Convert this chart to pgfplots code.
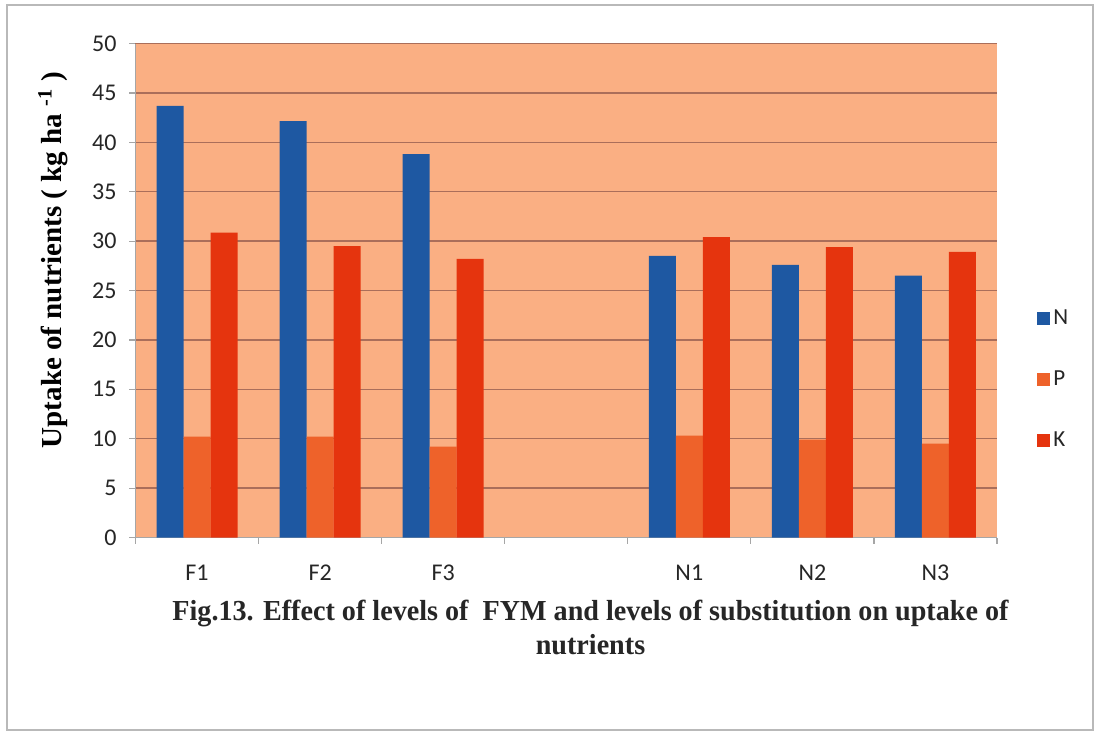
\documentclass[border=0pt]{standalone}
\usepackage{pgfplots}
\pgfplotsset{compat=1.18}
\usepackage{fontspec}
\setmainfont{Carlito}
\newfontfamily\capfont[FakeStretch=0.97]{Liberation Serif}
\newfontfamily\labfont{Liberation Serif}
\definecolor{bgc}{RGB}{250,175,131}
\definecolor{gridc}{RGB}{170,110,90}
\definecolor{cN}{RGB}{30,88,162}
\definecolor{cP}{RGB}{238,98,42}
\definecolor{cK}{RGB}{229,52,14}
\begin{document}
\begin{tikzpicture}[x=1pt,y=1pt]
\useasboundingbox (0,0) rectangle (549.5,367.5);
\fill[white] (0,0) rectangle (549.5,367.5);
\draw[gray!55,line width=0.8pt] (3.5,2.5) rectangle (546.5,365);
\begin{axis}[
  at={(67.75pt,98.75pt)}, anchor=south west,
  scale only axis, width=430.75pt, height=247pt,
  xmin=-0.5, xmax=6.5, ymin=0, ymax=50,
  ybar=0pt, bar width=13.5pt,
  axis background/.style={fill=bgc},
  axis x line*=bottom, axis y line*=left,
  axis line style={gray!70, line width=0.6pt},
  ytick={0,5,...,50},
  ymajorgrids, grid style={gridc, line width=0.7pt},
  y tick style={gray!70, line width=0.6pt},
  tick align=outside, major tick length=3pt,
  xtick={0,1,2,4,5,6},
  xticklabels={F1,F2,F3,N1,N2,N3},
  x tick style={draw=none},
  extra x ticks={-0.5,0.5,1.5,2.5,3.5,4.5,5.5,6.5},
  extra x tick labels={},
  extra x tick style={grid=none, x tick style={draw=gray!70, line width=0.6pt}, major tick length=3pt},
  /pgf/number format/assume math mode=true,
  tick label style={font=\fontsize{12}{14}\selectfont, text=black!85},
  xticklabel style={yshift=-7pt},
  yticklabel style={xshift=-3pt},
  ylabel={\labfont\bfseries Uptake of nutrients ( kg ha \textsuperscript{-1} )},
  ylabel style={font=\fontsize{14.5}{16}\selectfont, at={(ticklabel cs:0.562)}, yshift=5pt},
  legend style={draw=none, fill=none, at={(1,0.32)}, anchor=west, xshift=17pt,
    font=\fontsize{11.5}{13}\selectfont, row sep=18.5pt, text=black!85,
    nodes={inner sep=1.5pt}},
  legend cell align=left,
  legend image code/.code={\fill[#1,draw=none] (0pt,-3.25pt) rectangle (6.5pt,3.25pt);},
]
\addplot[fill=cN, draw=none] coordinates {(0,43.7) (1,42.15) (2,38.8) (4,28.5) (5,27.6) (6,26.5)};
\addplot[fill=cP, draw=none] coordinates {(0,10.2) (1,10.2) (2,9.2) (4,10.3) (5,9.9) (6,9.5)};
\addplot[fill=cK, draw=none] coordinates {(0,30.85) (1,29.5) (2,28.2) (4,30.4) (5,29.4) (6,28.9)};
\legend{N,P,K}
\end{axis}
\node[font=\capfont\bfseries\fontsize{14.5}{16}\selectfont, text=black!85] at (295.25,61) {Fig.13. Effect of levels of \ FYM and levels of substitution on uptake of};
\node[font=\capfont\bfseries\fontsize{14.5}{16}\selectfont, text=black!85] at (295.25,45) {nutrients};
\end{tikzpicture}
\end{document}
